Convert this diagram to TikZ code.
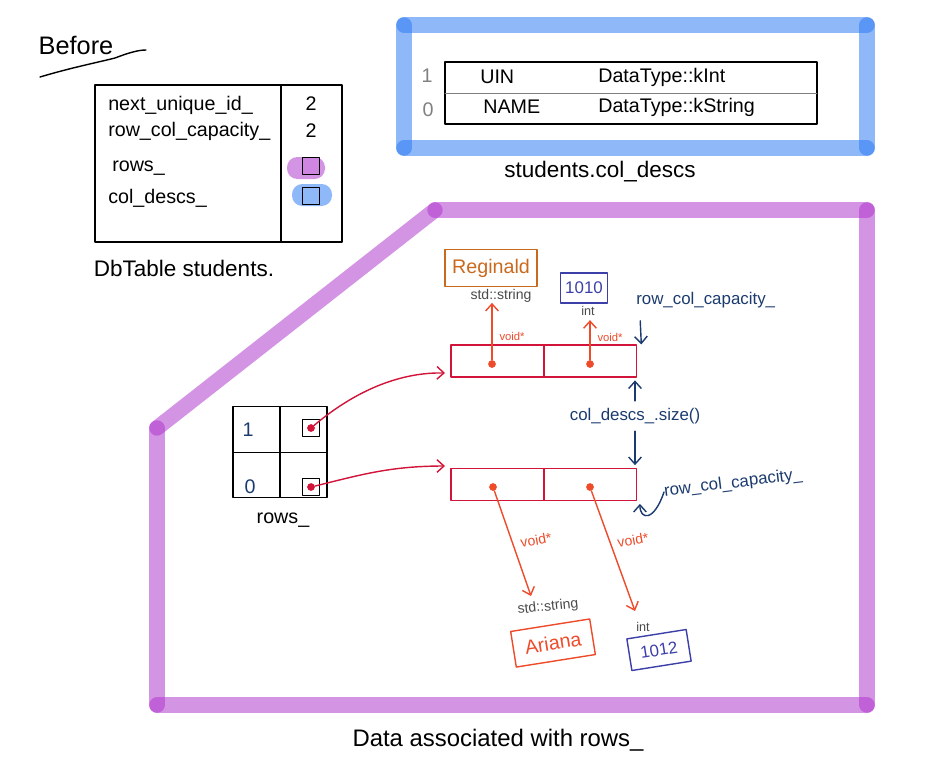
\documentclass[tikz,border=0pt]{standalone}
\usepackage{fontspec}
\setmainfont{Liberation Sans}
\usetikzlibrary{arrows.meta}
\definecolor{navy}{HTML}{1B3B6F}
\definecolor{ptrred}{HTML}{D2143A}
\definecolor{voidred}{HTML}{EE4B2B}
\definecolor{strorange}{HTML}{C9691E}
\definecolor{intblue}{HTML}{3C3FA8}
\definecolor{typegray}{HTML}{4A4A4A}
\definecolor{hiblue}{RGB}{44,121,242}
\definecolor{hipurple}{RGB}{174,53,204}
\definecolor{blobblue}{RGB}{143,184,248}
\definecolor{blobpurple}{RGB}{212,148,228}

\begin{document}
\begin{tikzpicture}[x=0.025cm,y=-0.025cm,line join=round,line cap=round,
  >={Straight Barb[length=5pt,width=9pt]},
  lbl/.style={font=\fontsize{14}{16}\selectfont,anchor=west,inner sep=0pt},
  captxt/.style={font=\fontsize{16}{18}\selectfont,inner sep=0pt},
  valtxt/.style={font=\fontsize{14}{16}\selectfont,inner sep=0pt},
  tinytxt/.style={font=\fontsize{8}{9}\selectfont,inner sep=0pt},
  smalltxt/.style={font=\fontsize{10}{11}\selectfont,inner sep=0pt},
  navytxt/.style={text=navy,font=\fontsize{12}{14}\selectfont,inner sep=0pt},
  cell/.style={draw=ptrred,line width=0.8pt,minimum width=2.325cm,minimum height=0.8cm,inner sep=0pt},
  gcell/.style={draw,line width=0.9pt,minimum width=1.175cm,minimum height=1.14cm,inner sep=0pt},
  ptrbox/.style={draw,line width=0.9pt,minimum size=0.42cm,inner sep=0pt},
  vdot/.style={circle,fill=voidred,inner sep=0pt,minimum size=5.5pt},
  rdot/.style={circle,fill=ptrred,inner sep=0pt,minimum size=5.5pt},
  hiline/.style={line width=11pt,opacity=0.53},
  ptrarr/.style={->,ptrred,line width=1pt},
  voidarr/.style={->,voidred,line width=1pt},
  navyarr/.style={->,navy,line width=1pt}]
\useasboundingbox (0,0) rectangle (931,772);

% before
\node[font=\fontsize{18}{20}\selectfont,inner sep=0pt] (before) at (76,45) {Before};
\draw[line width=1pt] (40,77) .. controls (70,68) and (95,63) .. (115,58) .. controls (128,53) and (138,50) .. (146,50);

\node[draw,line width=0.9pt,minimum width=6.175cm,minimum height=3.925cm] (tbl) at (218.5,163.5) {};
\draw[line width=0.9pt] (281,85) -- (281,242);
\node[lbl] (nuid) at (108,105) {next\_unique\_id\_};
\node[lbl] (rcc) at (108,131) {row\_col\_capacity\_};
\node[lbl] (rows) at (112,168) {rows\_};
\node[lbl] (cold) at (108,198) {col\_descs\_};
\node[valtxt] (nuidv) at (311,104) {2};
\node[valtxt] (rccv) at (311,131) {2};
\node[fill=blobpurple,rounded corners=2.6mm,minimum width=0.95cm,minimum height=0.55cm] (rowsblob) at (306,168) {};
\node[ptrbox,fill=blobpurple!85!hipurple] (rowsptr) at (311,166) {};
\node[fill=blobblue,rounded corners=2.6mm,minimum width=1cm,minimum height=0.55cm] (coldblob) at (312,195) {};
\node[ptrbox,fill=blobblue] (coldptr) at (311,196) {};
\node[captxt] (dbcap) at (184,268) {DbTable students.};

% col_descs
\draw[hiline,hiblue] (404,25) -- (867,25);
\draw[hiline,hiblue] (867,25) -- (867,148);
\draw[hiline,hiblue] (867,148) -- (404,148);
\draw[hiline,hiblue] (404,148) -- (404,25);
\node[draw,line width=0.9pt,minimum width=9.3cm,minimum height=1.55cm] (cdt) at (631,93) {};
\draw[gray,line width=0.5pt] (445,93) -- (817,93);
\node[valtxt,text=gray] (idx1) at (427,76) {1};
\node[valtxt,text=gray] (idx0) at (428,110) {0};
\node[lbl] (uin) at (480,77) {UIN};
\node[lbl] (kint) at (598,77) {DataType::kInt};
\node[lbl] (name) at (483,107) {NAME};
\node[lbl] (kstr) at (598,107) {DataType::kString};
\node[captxt] (cdcap) at (600,172) {students.col\_descs};

% rows_ data
\draw[hiline,hipurple] (435,210) -- (867,210);
\draw[hiline,hipurple] (867,210) -- (867,705);
\draw[hiline,hipurple] (867,705) -- (157,705);
\draw[hiline,hipurple] (157,705) -- (157,428);
\draw[hiline,hipurple] (157,428) -- (435,210);
\node[font=\fontsize{17}{19}\selectfont,inner sep=0pt] (datacap) at (498,740) {Data associated with rows\_};

\node[gcell] (g1a) at (256.5,429.5) {};
\node[gcell] (g1b) at (303.5,429.5) {};
\node[gcell] (g0a) at (256.5,475) {};
\node[gcell] (g0b) at (303.5,475) {};
\node[valtxt,text=navy] (i1) at (248,430) {1};
\node[valtxt,text=navy] (i0) at (250,487) {0};
\node[ptrbox] (p1) at (311,428) {};
\node[ptrbox] (p0) at (311,487) {};
\node[rdot] (p1d) at (p1) {};
\node[rdot] (p0d) at (p0) {};
\node[valtxt] (rowscap) at (283,520) {rows\_};

\node[cell] (r1a) at (497.5,361) {};
\node[cell] (r1b) at (590,361) {};
\node[cell] (r0a) at (497.5,484.5) {};
\node[cell] (r0b) at (590,484.5) {};
\node[vdot] (d1a) at (492,364) {};
\node[vdot] (d1b) at (590,364) {};
\node[vdot] (d0a) at (493,487) {};
\node[vdot] (d0b) at (590,487) {};

\coordinate (r1in) at (445,373);
\coordinate (r0in) at (445,466);
\draw[ptrarr] (p1d) .. controls (350,395) and (395,372) .. (r1in);
\draw[ptrarr] (p0d) .. controls (360,475) and (390,466) .. (r0in);

% values of row 1
\node[draw=strorange,line width=1pt,minimum width=2.3cm,minimum height=0.925cm,text=strorange,valtxt] (reg) at (491,268) {Reginald};
\node[smalltxt,text=typegray] (str1) at (501,296) {std::string};
\node[draw=intblue,line width=1pt,minimum width=1.05cm,minimum height=0.75cm,text=intblue,font=\fontsize{12}{14}\selectfont] (v1010) at (584,288) {1010};
\node[tinytxt,font=\fontsize{9}{10}\selectfont,text=typegray] (int1) at (588,311) {int};
\draw[voidarr] (d1a) -- (d1a |- str1.south);
\draw[voidarr] (d1b) -- ([yshift=-3pt]d1b |- int1.south);
\node[tinytxt,text=voidred] (v1a) at (512,336) {void*};
\node[tinytxt,text=voidred] (v1b) at (610,337) {void*};

% values of row 0
\node[smalltxt,text=typegray,rotate=6] (str0) at (548,607) {std::string};
\node[draw=voidred,line width=1pt,minimum width=2cm,minimum height=0.9cm,text=voidred,valtxt,rotate=9] (ari) at (553,643) {Ariana};
\node[tinytxt,font=\fontsize{9}{10}\selectfont,text=typegray] (int0) at (643,627) {int};
\node[draw=intblue,line width=1pt,minimum width=1.5cm,minimum height=0.8cm,text=intblue,font=\fontsize{12}{14}\selectfont,rotate=9] (v1012) at (659,650) {1012};
\coordinate (a0end) at (531,596);
\coordinate (b0end) at (635,611);
\draw[voidarr] (d0a) -- (a0end);
\draw[voidarr] (d0b) -- (b0end);
\node[smalltxt,text=voidred,rotate=10] (v0a) at (536,540) {void*};
\node[smalltxt,text=voidred,rotate=10] (v0b) at (633,540) {void*};

% sizes
\node[navytxt,anchor=west] (cap1) at (636,300) {row\_col\_capacity\_};
\draw[navyarr] ([xshift=3pt,yshift=-9pt]cap1.south west) -- ([xshift=3pt]r1b.north east);
\node[navytxt] (size) at (635,416) {col\_descs\_.size()};
\draw[navyarr,shorten <=5pt,shorten >=2pt] (size.north) -- (size.north |- r1b.south);
\draw[navyarr,shorten <=5pt,shorten >=2pt] (size.south) -- (size.south |- r0b.north);
\node[navytxt,anchor=west,rotate=7] (cap0) at (664,492) {row\_col\_capacity\_};
\draw[navyarr] (cap0.west) .. controls (654,522) and (640,520) .. ([xshift=2pt,yshift=-2pt]r0b.south east);
\end{tikzpicture}
\end{document}
